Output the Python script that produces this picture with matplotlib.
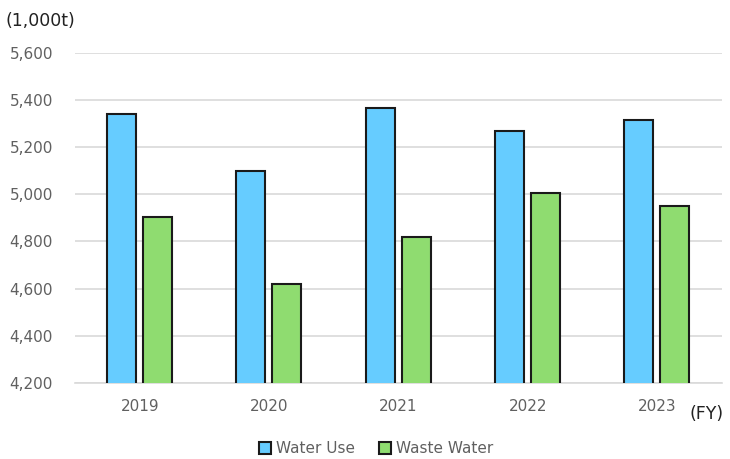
import matplotlib
matplotlib.use("Agg")
import matplotlib.pyplot as plt
import numpy as np

plt.rcParams['font.family'] = ['DejaVu Sans']

years = ["2019", "2020", "2021", "2022", "2023"]
water_use = [5340, 5100, 5367, 5270, 5316]
waste_water = [4905, 4620, 4820, 5006, 4952]

blue = '#66CCFF'
green = '#8FDC70'
grey = '#606060'

fig = plt.figure(figsize=(7.3, 4.59), dpi=100)
ax = fig.add_axes([0.103, 0.166, 0.886, 0.719])

x = np.arange(len(years))
w = 0.224
ax.bar(x - 0.143, water_use, width=w, color=blue, edgecolor='#1a1a1a',
       linewidth=1.5, label='Water Use', zorder=3)
ax.bar(x + 0.135, waste_water, width=w, color=green, edgecolor='#1a1a1a',
       linewidth=1.5, label='Waste Water', zorder=3)

ax.set_xlim(-0.5, 4.5)
ax.set_ylim(4200, 5600)
ax.set_yticks(range(4200, 5601, 200))
ax.set_yticklabels([f"{v:,}" for v in range(4200, 5601, 200)])
ax.set_xticks(x)
ax.set_xticklabels(years)

ax.yaxis.grid(True, color='#d9d9d9', linewidth=1.2, zorder=0)
for s in ['top', 'right', 'left']:
    ax.spines[s].set_visible(False)
ax.spines['bottom'].set_color('#d9d9d9')
ax.spines['bottom'].set_linewidth(1.2)
ax.tick_params(axis='both', length=0, labelsize=11, labelcolor=grey)
ax.tick_params(axis='y', pad=16)
ax.tick_params(axis='x', pad=12)

# unit labels
fig.text(0.008, 0.955, '(1,000t)', fontsize=12.5, color='#222222', va='center')
fig.text(0.945, 0.098, '(FY)', fontsize=12.5, color='#222222', va='center')

leg = fig.legend(loc='center', bbox_to_anchor=(0.515, 0.022), ncol=2, frameon=False,
                 fontsize=11, handlelength=0.8, handleheight=0.8,
                 handletextpad=0.3, columnspacing=1.6)
for t in leg.get_texts():
    t.set_color(grey)

fig.savefig('out.png', dpi=100)
